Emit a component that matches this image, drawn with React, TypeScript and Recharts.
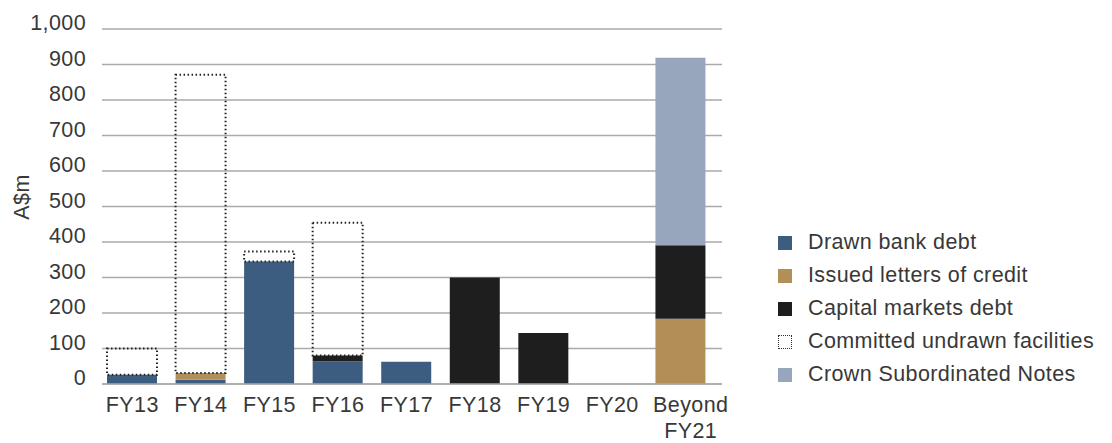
import React from 'react';
import { BarChart, Bar, XAxis, YAxis, CartesianGrid } from 'recharts';

const categories = ['FY13', 'FY14', 'FY15', 'FY16', 'FY17', 'FY18', 'FY19', 'FY20', 'Beyond FY21'];
const drawnBankDebt = [26, 12, 345, 64, 63, 0, 0, 0, 0];
const lettersOfCredit = [0, 19, 0, 0, 0, 0, 0, 0, 184];
const capitalMarketsDebt = [0, 0, 0, 16, 0, 300, 144, 0, 207];
const committedUndrawn = [74, 840, 28, 374, 0, 0, 0, 0, 0];
const crownSubNotes = [0, 0, 0, 0, 0, 0, 0, 0, 528];
const yTicks = [0, 100, 200, 300, 400, 500, 600, 700, 800, 900, 1000];

const seriesNames = [
  'Drawn bank debt',
  'Issued letters of credit',
  'Capital markets debt',
  'Committed undrawn facilities',
  'Crown Subordinated Notes',
];

const COLORS = {
  drawn: '#3d5d80',
  lc: '#b38f58',
  cap: '#1e1e1e',
  undrawn: '#222222',
  csn: '#97a6bd',
};

const data = categories.map((c, i) => ({
  name: c,
  drawn: drawnBankDebt[i],
  lc: lettersOfCredit[i],
  cap: capitalMarketsDebt[i],
  undrawn: committedUndrawn[i],
  csn: crownSubNotes[i],
}));

const FONT = '"Liberation Sans", Arial, sans-serif';
const TEXT = '#383838';
const FS = 21.5;
const LS = 0.4;

const YTick = (props: any) => {
  const { y, payload } = props;
  return (
    <text x={86} y={y - 6} textAnchor="end" dominantBaseline="central" fontSize={FS} letterSpacing={LS} fill={TEXT} fontFamily={FONT}>
      {payload.value.toLocaleString('en-US')}
    </text>
  );
};

const XTick = (props: any) => {
  const { x, y, payload } = props;
  const words = String(payload.value).split(' ');
  if (words.length > 1) {
    return (
      <text x={x + 10} y={y} textAnchor="middle" fontSize={FS} letterSpacing={LS} fill={TEXT} fontFamily={FONT}>
        {words.map((w, i) => (
          <tspan key={i} x={x + 10} dy={i === 0 ? 20 : 26}>{w}</tspan>
        ))}
      </text>
    );
  }
  return (
    <text x={x} y={y} dy={20} textAnchor="middle" fontSize={FS} letterSpacing={LS} fill={TEXT} fontFamily={FONT}>
      {payload.value}
    </text>
  );
};

const legendColors = [COLORS.drawn, COLORS.lc, COLORS.cap, null, COLORS.csn];

const LegendBox = () => (
  <div style={{ position: 'absolute', left: 778, top: 226, fontFamily: FONT, fontSize: FS, letterSpacing: LS, color: TEXT }}>
    {seriesNames.map((n, i) => (
      <div key={n} style={{ display: 'flex', alignItems: 'center', height: 33 }}>
        {legendColors[i] ? (
          <div style={{ width: 14, height: 14, background: legendColors[i] as string, marginRight: 16 }} />
        ) : (
          <div style={{ width: 12, height: 12, border: '1px dotted #333', marginRight: 16 }} />
        )}
        <span style={{ whiteSpace: 'nowrap' }}>{n}</span>
      </div>
    ))}
  </div>
);

export default function App() {
  return (
    <div style={{ position: 'absolute', left: 0, top: 0, width: 1112, height: 443, background: '#fff' }}>
      <BarChart
        width={1112}
        height={443}
        data={data}
        margin={{ top: 29, right: 390, bottom: 0, left: 0 }}
        barCategoryGap={0}
      >
        <CartesianGrid vertical={false} stroke="#aaaaaa" strokeWidth={1.5} />
        <XAxis
          dataKey="name"
          interval={0}
          tick={<XTick />}
          tickLine={false}
          axisLine={{ stroke: '#aaaaaa', strokeWidth: 1.5 }}
          height={59}
          padding={{ left: -4, right: 7 }}
        />
        <YAxis
          width={102}
          domain={[0, 1000]}
          ticks={yTicks}
          tick={<YTick />}
          tickLine={false}
          axisLine={false}
          label={{
            content: () => (
              <text x={22} y={197} transform="rotate(-90 22 197)" textAnchor="middle" dominantBaseline="central" fontSize={FS} letterSpacing={LS} fill={TEXT} fontFamily={FONT}>
                A$m
              </text>
            ),
          }}
        />
        <Bar dataKey="drawn" stackId="a" fill={COLORS.drawn} barSize={50} isAnimationActive={false} />
        <Bar dataKey="lc" stackId="a" fill={COLORS.lc} barSize={50} isAnimationActive={false} />
        <Bar dataKey="cap" stackId="a" fill={COLORS.cap} barSize={50} isAnimationActive={false} />
        <Bar
          dataKey="undrawn"
          stackId="a"
          fill="none"
          stroke={COLORS.undrawn}
          strokeWidth={2}
          strokeDasharray="1.5 2.5"
          barSize={50}
          isAnimationActive={false}
        />
        <Bar dataKey="csn" stackId="a" fill={COLORS.csn} barSize={50} isAnimationActive={false} />
      </BarChart>
      <LegendBox />
    </div>
  );
}
